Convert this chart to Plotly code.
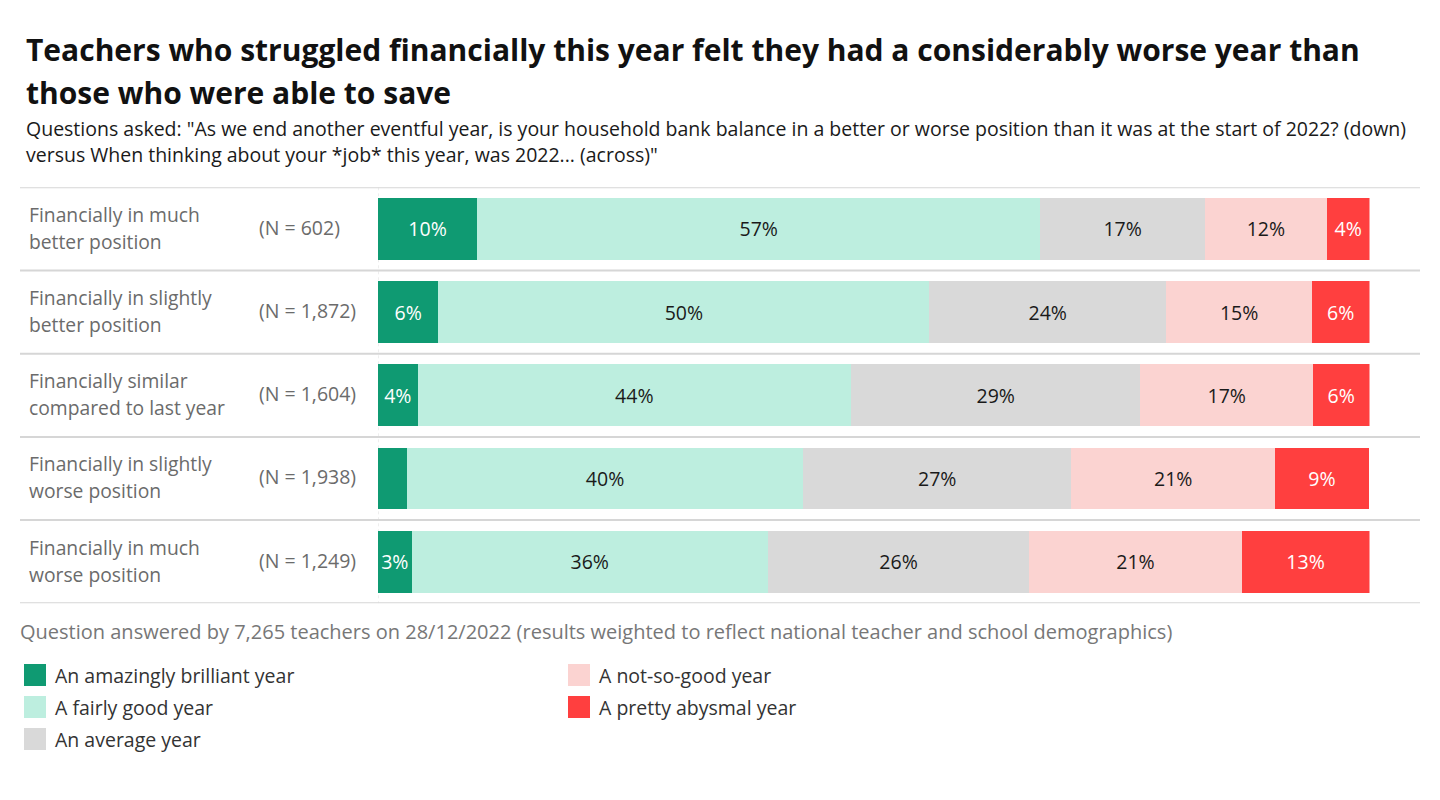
import plotly.graph_objects as go

W, H = 1440, 800
OFF = 8  # page body margin offset
APAD = 2  # annotation inner padding

title_line1 = "Teachers who struggled financially this year felt they had a considerably worse year than"
title_line2 = "those who were able to save"
subtitle_line1 = 'Questions asked: "As we end another eventful year, is your household bank balance in a better or worse position than it was at the start of 2022? (down)'
subtitle_line2 = 'versus When thinking about your *job* this year, was 2022... (across)"'
footnote = "Question answered by 7,265 teachers on 28/12/2022 (results weighted to reflect national teacher and school demographics)"

row_labels = [
    "Financially in much<br>better position",
    "Financially in slightly<br>better position",
    "Financially similar<br>compared to last year",
    "Financially in slightly<br>worse position",
    "Financially in much<br>worse position",
]
row_n = ["(N = 602)", "(N = 1,872)", "(N = 1,604)", "(N = 1,938)", "(N = 1,249)"]

series_names = [
    "An amazingly brilliant year",
    "A fairly good year",
    "An average year",
    "A not-so-good year",
    "A pretty abysmal year",
]
brilliant = [10.0, 6.1, 4.0, 2.9, 3.4]
fairly_good = [56.8, 49.5, 43.7, 40.0, 35.9]
average = [16.6, 23.9, 29.2, 27.0, 26.4]
not_so_good = [12.3, 14.7, 17.4, 20.6, 21.4]
abysmal = [4.3, 5.8, 5.7, 9.4, 12.9]
series_values = [brilliant, fairly_good, average, not_so_good, abysmal]

colors = ["#0f9a72", "#bdeedf", "#d9d9d9", "#fbd3d1", "#ff3f3f"]
text_colors = ["#ffffff", "#1a1a1a", "#1a1a1a", "#1a1a1a", "#ffffff"]

FONT = "Open Sans"


def px(x):
    return (x - OFF) / W


def py(y):
    return 1 - (y - OFF) / H


fig = go.Figure()
cats = list(range(len(row_labels)))
for name, vals, col, tcol in zip(series_names, series_values, colors, text_colors):
    fig.add_trace(go.Bar(
        y=cats, x=vals, name=name, orientation="h",
        marker=dict(color=col, line=dict(width=0)),
        text=[f"{round(v)}%" if v >= 3 else "" for v in vals],
        textposition="inside", insidetextanchor="middle",
        textangle=0,
        insidetextfont=dict(color=tcol, size=19.5, family=FONT),
        width=0.745,
        showlegend=False,
        hoverinfo="x+name",
    ))

y_top, y_bot = 187.3, 603.3
fig.update_layout(
    width=W, height=H,
    barmode="stack",
    margin=dict(l=0, r=0, t=0, b=0),
    paper_bgcolor="white", plot_bgcolor="white",
    font=dict(family=FONT, size=18, color="#1a1a1a"),
    xaxis=dict(domain=[px(378), px(1369.5)], range=[0, 100], visible=False, fixedrange=True),
    yaxis=dict(domain=[py(y_bot), py(y_top)], range=[4.5, -0.5],
               visible=False, fixedrange=True),
    uniformtext=dict(minsize=19, mode="show"),
    showlegend=False,
)

shapes = []
annotations = []

# title & subtitle
annotations.append(dict(x=px(26 - APAD), y=py(50), xref="paper", yref="paper", xanchor="left", yanchor="middle",
                        text=f"<b>{title_line1}</b>", showarrow=False,
                        font=dict(size=30, color="#111111", family=FONT)))
annotations.append(dict(x=px(26 - APAD), y=py(93), xref="paper", yref="paper", xanchor="left", yanchor="middle",
                        text=f"<b>{title_line2}</b>", showarrow=False,
                        font=dict(size=30, color="#111111", family=FONT)))
annotations.append(dict(x=px(26 - APAD), y=py(128), xref="paper", yref="paper", xanchor="left", yanchor="middle",
                        text=subtitle_line1, showarrow=False,
                        font=dict(size=19.5, color="#1a1a1a", family=FONT)))
annotations.append(dict(x=px(26 - APAD), y=py(155), xref="paper", yref="paper", xanchor="left", yanchor="middle",
                        text=subtitle_line2, showarrow=False,
                        font=dict(size=19.5, color="#1a1a1a", family=FONT)))

# row separator lines (at category boundaries)
for i in range(len(row_labels) + 1):
    shapes.append(dict(type="line", xref="paper", yref="y", x0=px(20), x1=px(1420),
                       y0=i - 0.5, y1=i - 0.5, line=dict(color="#d6d6d6", width=2)))
# dotted baseline
shapes.append(dict(type="line", xref="x", yref="y", x0=0, x1=0, y0=-0.5, y1=4.5,
                   line=dict(color="#dddddd", width=1, dash="dot"), layer="below"))

# row labels (each line placed separately for looser line spacing)
for i, (lab, n) in enumerate(zip(row_labels, row_n)):
    lines = lab.split("<br>")
    for line, dy in zip(lines, [-0.175, 0.15]):
        annotations.append(dict(x=px(29 - APAD), y=i + dy, xref="paper", yref="y",
                                xanchor="left", yanchor="middle",
                                text=line, showarrow=False, align="left",
                                font=dict(size=19.3, color="#6b6b6b", family=FONT)))
    annotations.append(dict(x=px(259 - APAD), y=i - 0.02, xref="paper", yref="y", xanchor="left", yanchor="middle",
                            text=n, showarrow=False, align="left",
                            font=dict(size=19.5, color="#6b6b6b", family=FONT)))

# footnote
annotations.append(dict(x=px(20 - APAD), y=py(631), xref="paper", yref="paper", xanchor="left", yanchor="middle",
                        text=footnote, showarrow=False,
                        font=dict(size=20, color="#777777", family=FONT)))

# custom legend
legend_pos = [(24, 675), (24, 707), (24, 739), (568, 675), (568, 707)]
for (lx, ly), name, col in zip(legend_pos, series_names, colors):
    shapes.append(dict(type="rect", xref="paper", yref="paper",
                       x0=px(lx), x1=px(lx + 22), y0=py(ly - 11), y1=py(ly + 11),
                       fillcolor=col, line=dict(width=0)))
    annotations.append(dict(x=px(lx + 31 - APAD), y=py(ly), xref="paper", yref="paper",
                            xanchor="left", yanchor="middle", text=name, showarrow=False,
                            font=dict(size=19.5, color="#333333", family=FONT)))

fig.update_layout(shapes=shapes, annotations=annotations)
fig.write_html("out.html")
